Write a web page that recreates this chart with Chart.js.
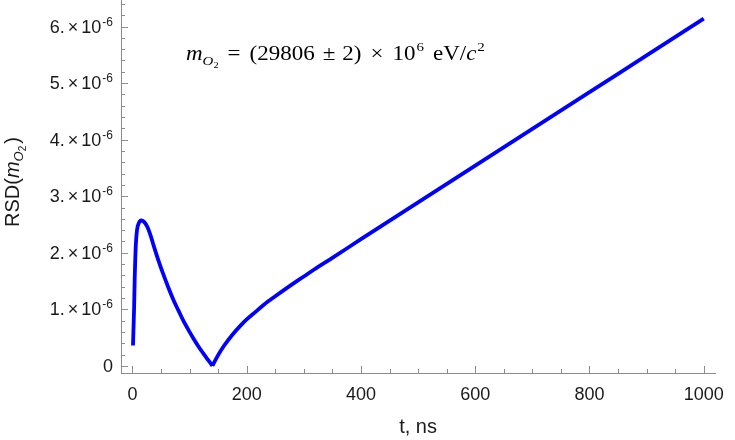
<!DOCTYPE html>
<html><head><meta charset="utf-8">
<script src="https://cdn.jsdelivr.net/npm/chart.js@4.4.1/dist/chart.umd.min.js"></script>
<style>html,body{margin:0;padding:0;background:#fff}#wrap{width:735px;height:440px;position:relative}</style>
</head><body><div id="wrap"><canvas id="c" width="735" height="440"></canvas></div>
<script>
// time, ns
const tRise = [1, 2, 3, 4, 5, 6, 8, 11, 15.5, 20, 26, 32, 38, 45, 54, 63, 72, 80, 90, 100, 107, 115, 124, 132, 140];
// RSD in units of 10^-6
const rsdRise = [0.36, 0.70, 1.05, 1.55, 1.90, 2.15, 2.40, 2.52, 2.57, 2.55, 2.46, 2.30, 2.10, 1.88, 1.62, 1.38, 1.16, 0.99, 0.78, 0.60, 0.48, 0.35, 0.22, 0.11, 0.0];
const tGrow = [140, 150, 160, 175, 190, 200, 215, 230, 250, 275, 300, 325, 350, 400, 500, 600, 700, 800, 900, 1000];
const rsdGrow = [0.0, 0.19, 0.35, 0.55, 0.72, 0.82, 0.95, 1.08, 1.23, 1.41, 1.58, 1.75, 1.91, 2.24, 2.89, 3.54, 4.19, 4.84, 5.49, 6.14];
const xTickValues = [0, 200, 400, 600, 800, 1000];
const yTickValues = [0, 1, 2, 3, 4, 5, 6];
const yTickMantissa = ['0', '1.', '2.', '3.', '4.', '5.', '6.'];
const yTickExponent = '-6';

const AXIS = '#8c8c8c';
const TXT = '#1a1a1a';
const SANS = '"Liberation Sans", Arial, sans-serif';
const SERIF = '"Liberation Serif", "Times New Roman", serif';

function toPts(xs, ys){ return xs.map((x,i)=>({x:x, y:ys[i]})); }

// draw a run of text pieces, optionally stretched horizontally by sx
function drawParts(ctx, x, y, parts, sx){
  sx = sx || 1;
  for (const p of parts){
    ctx.font = p.f;
    x += (p.g || 0);
    ctx.save();
    ctx.translate(x, y + (p.dy || 0));
    ctx.scale(sx, 1);
    ctx.fillText(p.t, 0, 0);
    ctx.restore();
    x += ctx.measureText(p.t).width * sx;
  }
  return x;
}
function partsWidth(ctx, parts, sx){
  sx = sx || 1;
  let w = 0;
  for (const p of parts){ ctx.font = p.f; w += (p.g||0) + ctx.measureText(p.t).width * sx; }
  return w;
}

const decor = {
  id: 'decor',
  beforeDatasetsDraw(chart){
    const ctx = chart.ctx, xs = chart.scales.x, ys = chart.scales.y;
    const left = chart.chartArea.left, bottom = chart.chartArea.bottom, top = chart.chartArea.top;
    ctx.save();
    ctx.strokeStyle = AXIS; ctx.lineWidth = 1;
    ctx.beginPath();
    for (let v = 0; v <= 1000; v += 50){
      const px = Math.round(xs.getPixelForValue(v)) + 0.5;
      const len = (v % 200 === 0) ? 7 : 4;
      ctx.moveTo(px, bottom); ctx.lineTo(px, bottom - len);
    }
    for (let i = 0; i <= 32; i++){
      const py = Math.round(ys.getPixelForValue(i / 5)) + 0.5;
      if (py < top) continue;
      const len = (i % 5 === 0) ? 7 : 4;
      ctx.moveTo(left, py); ctx.lineTo(left + len, py);
    }
    ctx.stroke();
    ctx.restore();
  },
  afterDraw(chart){
    const ctx = chart.ctx, ys = chart.scales.y;
    ctx.save();
    ctx.fillStyle = TXT;
    ctx.textBaseline = 'alphabetic';
    ctx.textAlign = 'left';
    // y tick labels
    yTickValues.forEach((v, i) => {
      const py = ys.getPixelForValue(v);
      let parts;
      if (v === 0) parts = [{t: yTickMantissa[i], f: '18px ' + SANS}];
      else parts = [
        {t: yTickMantissa[i], f: '18px ' + SANS},
        {t: '\u00d7', f: '18px ' + SANS, g: 3},
        {t: '10', f: '18px ' + SANS, g: 3},
        {t: yTickExponent, f: '12px ' + SANS, dy: -7, g: 1}
      ];
      const w = partsWidth(ctx, parts);
      drawParts(ctx, 113 - w, py + 6, parts);
    });
    // y title (rotated)
    const tparts = [
      {t: 'RSD(', f: '20px ' + SANS},
      {t: 'm', f: 'italic 20px ' + SANS},
      {t: 'O', f: 'italic 13px ' + SANS, dy: 4},
      {t: '2', f: '10px ' + SANS, dy: 7},
      {t: ')', f: '20px ' + SANS, g: 2}
    ];
    const tw = partsWidth(ctx, tparts);
    ctx.save();
    ctx.translate(19, 182);
    ctx.rotate(-Math.PI / 2);
    drawParts(ctx, -tw / 2, 0, tparts);
    ctx.restore();
    // annotation
    ctx.fillStyle = '#000';
    const asx = 1.15;
    const ann = [
      {t: 'm', f: 'italic 20px ' + SERIF},
      {t: 'O', f: 'italic 13px ' + SERIF, dy: 5},
      {t: '2', f: '9px ' + SERIF, dy: 8},
      {t: '=', f: '20px ' + SERIF, g: 9},
      {t: '(29806', f: '20px ' + SERIF, g: 9},
      {t: '\u00b1', f: '20px ' + SERIF, g: 8},
      {t: '2)', f: '20px ' + SERIF, g: 7},
      {t: '\u00d7', f: '20px ' + SERIF, g: 9},
      {t: '10', f: '20px ' + SERIF, g: 9},
      {t: '6', f: '13px ' + SERIF, dy: -9, g: 1},
      {t: 'eV/', f: '20px ' + SERIF, g: 9},
      {t: 'c', f: 'italic 20px ' + SERIF},
      {t: '2', f: '13px ' + SERIF, dy: -9, g: 1}
    ];
    drawParts(ctx, 186, 60, ann, asx);
    ctx.restore();
  }
};

const lineStyle = {borderColor: '#0000ff', borderWidth: 3.8, pointRadius: 0, fill: false, cubicInterpolationMode: 'monotone', borderCapStyle: 'butt', borderJoinStyle: 'round'};

new Chart(document.getElementById('c'), {
  type: 'line',
  data: {
    datasets: [
      Object.assign({label: 'RSD rise', data: toPts(tRise, rsdRise)}, lineStyle),
      Object.assign({label: 'RSD growth', data: toPts(tGrow, rsdGrow)}, lineStyle)
    ]
  },
  options: {
    responsive: false,
    animation: false,
    devicePixelRatio: 1,
    layout: {padding: {left: 0, right: 11, top: 0, bottom: 0}},
    plugins: {legend: {display: false}, tooltip: {enabled: false}, title: {display: false}},
    scales: {
      x: {
        type: 'linear', min: -20, max: 1020,
        grid: {display: false, drawTicks: false},
        border: {display: true, color: AXIS, width: 1},
        afterBuildTicks: (s) => { s.ticks = xTickValues.map(v => ({value: v})); },
        afterFit: (s) => { s.height = 67; },
        ticks: {padding: 11, maxRotation: 0, autoSkip: false, color: TXT, font: {family: SANS, size: 18}, callback: (v) => String(v)},
        title: {display: true, text: 't, ns', color: TXT, font: {family: SANS, size: 20}, padding: {top: 0, bottom: 1}}
      },
      y: {
        type: 'linear', min: -0.127, max: 6.47,
        grid: {display: false, drawTicks: false},
        border: {display: true, color: AXIS, width: 1},
        afterBuildTicks: (s) => { s.ticks = yTickValues.map(v => ({value: v})); },
        afterFit: (s) => { s.width = 121; },
        ticks: {display: false}
      }
    }
  },
  plugins: [decor]
});
</script></body></html>
